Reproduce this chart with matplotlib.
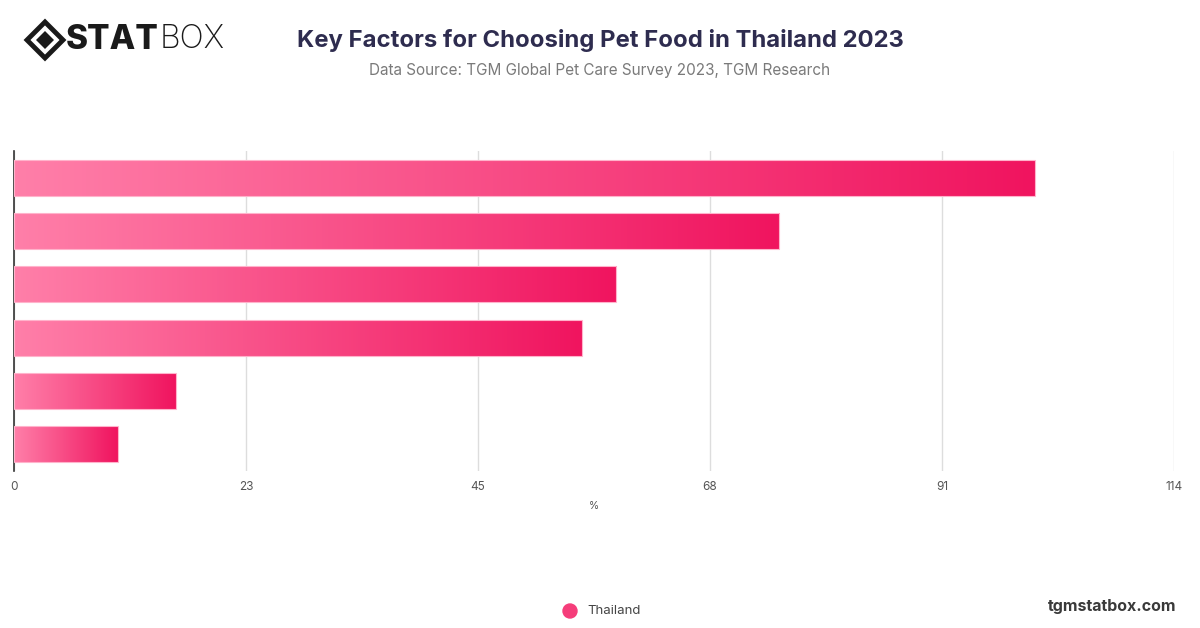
import numpy as np
import matplotlib.pyplot as plt
from matplotlib.colors import LinearSegmentedColormap
from matplotlib.patches import Polygon, Ellipse

# data (category labels are not shown in the original)
factors = ['Factor 1', 'Factor 2', 'Factor 3', 'Factor 4', 'Factor 5', 'Factor 6']
values = [100.3, 75.2, 59.2, 55.8, 15.9, 10.2]
series_name = 'Thailand'
tick_vals = [0, 22.8, 45.6, 68.4, 91.2, 114]
tick_labels = ['0', '23', '45', '68', '91', '114']

plt.rcParams['font.family'] = ['Inter', 'DejaVu Sans']

fig = plt.figure(figsize=(12, 6.28), dpi=100)
ax = fig.add_axes([14 / 1200, 1 - 471 / 628, 1160 / 1200, 320 / 628])

grad = LinearSegmentedColormap.from_list('pinkgrad', ['#ff7fa9', '#f0145f'])
g = np.tile(np.linspace(0, 1, 512), (8, 1))

bar_h = 0.675
ypos = np.arange(len(values))
for y, v in zip(ypos, values):
    bar = ax.barh(y, v, height=bar_h, facecolor='none', edgecolor='#ffb3cb', linewidth=0.8, zorder=4)[0]
    im = ax.imshow(g, cmap=grad, aspect='auto', extent=[0, v, y + bar_h / 2, y - bar_h / 2],
                   zorder=3, interpolation='nearest')
    im.set_clip_path(bar)

ax.set_xlim(0, 114)
ax.set_ylim(len(values) - 0.5, -0.5)
ax.set_xticks(tick_vals)
ax.set_xticklabels(tick_labels)
ax.set_yticks([])
ax.grid(axis='x', color='#dddddd', linewidth=1, zorder=0)
for s in ['top', 'right', 'bottom']:
    ax.spines[s].set_visible(False)
ax.spines['left'].set_color('#333333')
ax.spines['left'].set_linewidth(1.2)
ax.tick_params(axis='x', length=0, pad=7, labelsize=8.5, labelcolor='#555555')
ax.set_xlabel('%', fontsize=7.5, color='#555555', labelpad=6)

# titles
fig.text(0.5, 1 - 40 / 628, 'Key Factors for Choosing Pet Food in Thailand 2023',
         ha='center', va='center', fontsize=17.2, fontweight='bold', color='#2e2c4f')
fig.text(0.5, 1 - 71 / 628, 'Data Source: TGM Global Pet Care Survey 2023, TGM Research',
         ha='center', va='center', fontsize=11, color='#7a7a7a')

# logo
lx, ly = 45 / 1200, 1 - 40 / 628
outer = Polygon([(lx - 18 / 1200, ly), (lx, ly + 18 / 628), (lx + 18 / 1200, ly), (lx, ly - 18 / 628)],
                closed=True, transform=fig.transFigure, facecolor='none', edgecolor='#1a1a1a', linewidth=3.5)
inner = Polygon([(lx - 9 / 1200, ly), (lx, ly + 9 / 628), (lx + 9 / 1200, ly), (lx, ly - 9 / 628)],
                closed=True, transform=fig.transFigure, facecolor='#1a1a1a', edgecolor='none')
fig.add_artist(outer)
fig.add_artist(inner)
fig.text(66 / 1200, ly, 'STAT', ha='left', va='center', fontsize=24, fontweight='heavy', color='#1a1a1a')
fig.text(160 / 1200, ly, 'BOX', ha='left', va='center', fontsize=23, fontweight='light', color='#1a1a1a')

# legend
fig.add_artist(Ellipse((570 / 1200, 1 - 611 / 628), 14 / 1200, 14 / 628, transform=fig.transFigure,
                       color='#f53d7a'))
fig.text(587 / 1200, 1 - 611 / 628, series_name, ha='left', va='center', fontsize=9.5, color='#444444')

fig.text(1176 / 1200, 1 - 606 / 628, 'tgmstatbox.com', ha='right', va='center',
         fontsize=11.5, fontweight='bold', color='#3a3a3a')

fig.savefig('out.png', dpi=100, facecolor='white')
